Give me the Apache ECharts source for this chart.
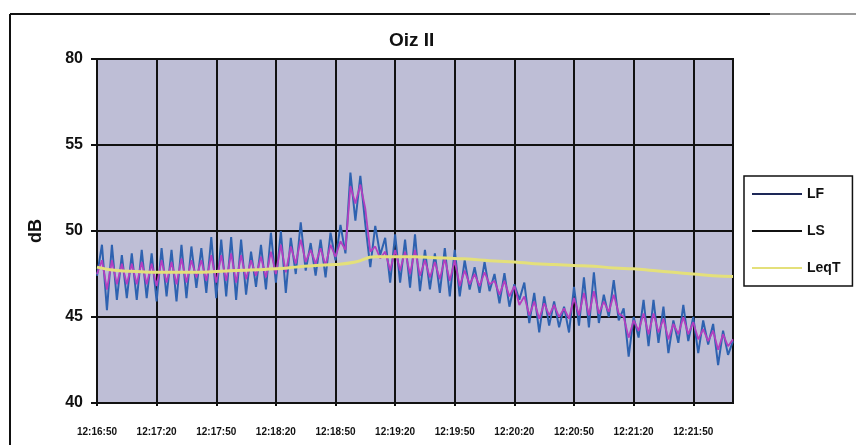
<!DOCTYPE html>
<html>
<head>
<meta charset="utf-8">
<script src="https://cdn.jsdelivr.net/npm/echarts@6/dist/echarts.min.js"></script>
<style>
html,body{margin:0;padding:0;background:#fff;}
#chart{width:856px;height:445px;}
</style>
</head>
<body>
<div id="chart"></div>
<script>
// ---- data ----
const title = 'Oiz II';
const seriesNames = ['LF', 'LS', 'LeqT'];
const xTickLabels = ['12:16:50','12:17:20','12:17:50','12:18:20','12:18:50','12:19:20','12:19:50','12:20:20','12:20:50','12:21:20','12:21:50'];
const yTickLabels = ['40','45','50','55','80'];
const STEP_LF = 2.5;   // seconds between LF / LS samples
const STEP_LEQ = 10;   // seconds between LeqT samples
const lf = [
 47.4,49.2,45.4,49.2,46.0,48.6,46.1,48.7,46.0,48.9,46.1,48.7,45.9,
 49.0,46.2,48.9,45.9,49.2,46.1,49.1,46.7,49.0,46.4,49.65,46.1,
 49.5,46.2,49.65,46.0,49.5,46.3,48.8,46.75,49.2,46.6,49.9,47.0,
 50.0,46.4,49.6,47.5,50.5,47.7,49.3,47.4,49.5,47.3,49.9,48.3,
 50.35,48.7,53.4,50.6,53.2,50.4,47.9,50.3,48.6,49.6,47.0,
 49.8,47.0,49.5,46.7,49.8,46.5,48.9,46.6,48.7,46.4,49.0,46.2,
 48.9,46.2,48.3,46.6,47.9,46.4,48.2,46.5,47.5,45.8,47.55,45.6,
 46.9,46.0,47.0,44.65,46.4,44.1,46.2,44.5,45.9,44.4,45.6,44.1,
 46.75,44.5,47.3,44.4,47.6,44.65,46.3,45.0,47.15,44.8,45.5,42.7,
 45.0,43.8,46.0,43.3,46.0,43.5,45.6,42.9,44.8,43.5,45.7,43.6,
 45.0,42.9,44.8,43.4,44.6,42.2,44.2,42.8,43.6
];
const ls = [
 47.5,48.3,46.6,48.3,46.9,48.1,46.9,48.1,46.9,48.2,46.9,48.1,46.8,
 48.3,47.0,48.2,46.9,48.4,47.0,48.3,47.3,48.3,47.1,48.6,47.0,
 48.6,47.1,48.7,47.0,48.6,47.2,48.3,47.4,48.5,47.3,48.8,47.5,
 49.2,47.6,49.1,48.1,49.5,48.2,48.9,48.1,49.0,48.0,49.2,48.5,
 49.4,48.9,52.6,51.6,52.7,51.3,48.8,49.1,48.4,48.8,47.7,
 48.9,47.7,48.8,47.5,48.9,47.4,48.3,47.3,48.2,47.2,48.4,47.1,
 48.3,46.8,47.7,46.9,47.5,46.8,47.6,46.9,47.1,46.3,47.1,46.2,
 46.8,45.7,46.2,45.1,45.9,44.9,45.8,45.1,45.7,45.0,45.5,44.9,
 46.1,45.1,46.4,45.1,46.5,45.2,45.9,45.3,46.3,45.2,45.0,43.8,
 44.8,44.2,45.2,44.0,45.2,44.1,44.9,43.7,44.6,44.0,45.0,44.0,
 44.7,43.7,44.3,43.6,44.2,43.1,44.0,43.3,43.7
];
const leqT = [
 47.9,47.7,47.65,47.6,47.6,47.6,47.65,47.7,47.75,47.8,
 47.9,48.0,48.05,48.2,48.5,48.5,48.5,48.45,48.4,48.35,
 48.25,48.2,48.1,48.05,48.0,47.95,47.85,47.8,47.7,47.6,
 47.5,47.4,47.35
];

// ---- chart ----
const chart = echarts.init(document.getElementById('chart'), null, {renderer:'canvas'});
const font = '"Liberation Sans", Arial, sans-serif';
const option = {
  animation: false,
  backgroundColor: '#ffffff',
  title: {
    text: title, left: 384, top: 26,
    textStyle: {fontFamily: font, fontSize: 19, fontWeight: 'bold', color: '#111'}
  },
  grid: {
    left: 97, top: 59, width: 636, height: 344,
    show: true, backgroundColor: '#BEBED6', borderColor: '#111', borderWidth: 2
  },
  legend: {
    orient: 'vertical', left: 744, top: 176,
    padding: [10, 12, 10, 8], itemGap: 21, itemWidth: 50, itemHeight: 2,
    icon: 'rect',
    backgroundColor: '#fff', borderColor: '#111', borderWidth: 1.5, borderRadius: 0,
    textStyle: {fontFamily: font, fontSize: 14, fontWeight: 'bold', color: '#111', lineHeight: 16},
    data: [
      {name: seriesNames[0], itemStyle: {color: '#1d2857'}},
      {name: seriesNames[1], itemStyle: {color: '#111111'}},
      {name: seriesNames[2], itemStyle: {color: '#E4E07A'}}
    ]
  },
  xAxis: {
    type: 'value', min: 0, max: 320, interval: 30,
    axisLine: {show: true, lineStyle: {color: '#111', width: 2}},
    axisTick: {show: true, length: 3, lineStyle: {color: '#111', width: 2}},
    splitLine: {show: true, lineStyle: {color: '#111', width: 2}},
    axisLabel: {
      showMaxLabel: false, margin: 24,
      fontFamily: font, fontSize: 10, fontWeight: 'bold', color: '#111',
      formatter: v => (v % 30 === 0 ? (xTickLabels[v / 30] || '') : '')
    }
  },
  yAxis: {
    type: 'value', min: 40, max: 60, interval: 5,
    name: 'dB', nameLocation: 'middle', nameGap: 52, nameRotate: 90,
    nameTextStyle: {fontFamily: font, fontSize: 18, fontWeight: 'bold', color: '#111'},
    axisLine: {show: true, lineStyle: {color: '#111', width: 2}},
    axisTick: {show: true, length: 6, lineStyle: {color: '#111', width: 2}},
    splitLine: {show: true, lineStyle: {color: '#111', width: 2}},
    axisLabel: {
      margin: 14, fontFamily: font, fontSize: 16, fontWeight: 'bold', color: '#111',
      formatter: v => yTickLabels[Math.round((v - 40) / 5)]
    }
  },
  series: [
    {name: seriesNames[0], type: 'line', symbol: 'none', smooth: false,
     lineStyle: {color: '#2E62B0', width: 2}, itemStyle: {color: '#2E62B0'},
     data: lf.map((v, i) => [i * STEP_LF, v])},
    {name: seriesNames[1], type: 'line', symbol: 'none', smooth: false,
     lineStyle: {color: '#B33FBF', width: 1.8}, itemStyle: {color: '#B33FBF'},
     data: ls.map((v, i) => [i * STEP_LF, v])},
    {name: seriesNames[2], type: 'line', symbol: 'none', smooth: true,
     lineStyle: {color: '#E4E07A', width: 3}, itemStyle: {color: '#E4E07A'},
     data: leqT.map((v, i) => [i * STEP_LEQ, v])}
  ],
  graphic: [
    {type: 'line', shape: {x1: 10, y1: 14, x2: 10, y2: 445}, style: {stroke: '#111', lineWidth: 2}, silent: true},
    {type: 'line', shape: {x1: 10, y1: 14, x2: 770, y2: 14}, style: {stroke: '#111', lineWidth: 2}, silent: true},
    {type: 'line', shape: {x1: 770, y1: 14, x2: 856, y2: 14}, style: {stroke: '#999', lineWidth: 2}, silent: true}
  ]
};
chart.setOption(option);
</script>
</body>
</html>
